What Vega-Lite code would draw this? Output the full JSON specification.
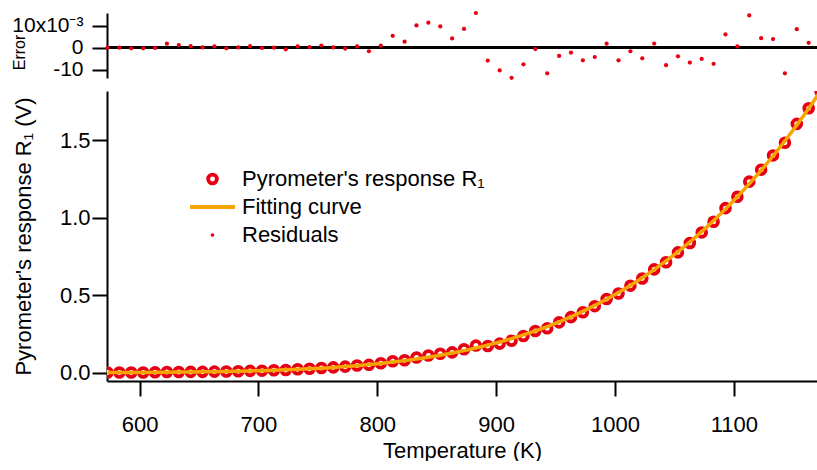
{
  "$schema": "https://vega.github.io/schema/vega-lite/v6.json",
  "padding": {"left": 11, "top": 10, "right": 0, "bottom": 0},
  "background": "white",
  "spacing": 11,
  "config": {
    "view": {"stroke": null},
    "font": "Liberation Sans",
    "axis": {
      "grid": false,
      "domainColor": "black",
      "tickColor": "black",
      "labelColor": "black",
      "titleColor": "black",
      "domainWidth": 2,
      "tickWidth": 2,
      "tickSize": 15,
      "labelFont": "Liberation Sans",
      "titleFont": "Liberation Sans",
      "titleFontWeight": "normal",
      "labelFlush": false,
      "labelOverlap": false,
      "labelBound": false
    },
    "legend": {
      "orient": "none",
      "legendX": 81,
      "legendY": 74,
      "title": null,
      "labelFontSize": 22,
      "labelFont": "Liberation Sans",
      "labelColor": "black",
      "labelLimit": 500,
      "labelOffset": 5,
      "symbolSize": 2025,
      "symbolStrokeWidth": 3.8,
      "clipHeight": 28,
      "rowPadding": 0
    }
  },
  "datasets": {
    "d": [
      {"T": 573, "R": 0.0008, "Fit": 0.0008, "Res": 0.0000},
      {"T": 583, "R": 0.0010, "Fit": 0.0010, "Res": 0.0000},
      {"T": 593, "R": 0.0010, "Fit": 0.0013, "Res": -0.0003},
      {"T": 603, "R": 0.0013, "Fit": 0.0016, "Res": -0.0003},
      {"T": 613, "R": 0.0020, "Fit": 0.0021, "Res": -0.0001},
      {"T": 623, "R": 0.0044, "Fit": 0.0026, "Res": 0.0018},
      {"T": 633, "R": 0.0045, "Fit": 0.0033, "Res": 0.0012},
      {"T": 643, "R": 0.0047, "Fit": 0.0040, "Res": 0.0007},
      {"T": 653, "R": 0.0051, "Fit": 0.0050, "Res": 0.0001},
      {"T": 663, "R": 0.0067, "Fit": 0.0061, "Res": 0.0006},
      {"T": 673, "R": 0.0071, "Fit": 0.0074, "Res": -0.0003},
      {"T": 683, "R": 0.0090, "Fit": 0.0089, "Res": 0.0001},
      {"T": 693, "R": 0.0114, "Fit": 0.0107, "Res": 0.0007},
      {"T": 703, "R": 0.0127, "Fit": 0.0128, "Res": -0.0001},
      {"T": 713, "R": 0.0152, "Fit": 0.0152, "Res": 0.0000},
      {"T": 723, "R": 0.0173, "Fit": 0.0180, "Res": -0.0007},
      {"T": 733, "R": 0.0218, "Fit": 0.0212, "Res": 0.0006},
      {"T": 743, "R": 0.0251, "Fit": 0.0248, "Res": 0.0003},
      {"T": 753, "R": 0.0300, "Fit": 0.0290, "Res": 0.0010},
      {"T": 763, "R": 0.0339, "Fit": 0.0338, "Res": 0.0001},
      {"T": 773, "R": 0.0387, "Fit": 0.0391, "Res": -0.0004},
      {"T": 783, "R": 0.0458, "Fit": 0.0452, "Res": 0.0006},
      {"T": 793, "R": 0.0504, "Fit": 0.0520, "Res": -0.0016},
      {"T": 803, "R": 0.0605, "Fit": 0.0596, "Res": 0.0009},
      {"T": 813, "R": 0.0735, "Fit": 0.0681, "Res": 0.0054},
      {"T": 823, "R": 0.0802, "Fit": 0.0775, "Res": 0.0027},
      {"T": 833, "R": 0.0981, "Fit": 0.0880, "Res": 0.0101},
      {"T": 843, "R": 0.1109, "Fit": 0.0996, "Res": 0.0113},
      {"T": 853, "R": 0.1220, "Fit": 0.1124, "Res": 0.0096},
      {"T": 863, "R": 0.1308, "Fit": 0.1266, "Res": 0.0042},
      {"T": 873, "R": 0.1506, "Fit": 0.1421, "Res": 0.0085},
      {"T": 883, "R": 0.1747, "Fit": 0.1590, "Res": 0.0157},
      {"T": 893, "R": 0.1718, "Fit": 0.1776, "Res": -0.0058},
      {"T": 903, "R": 0.1875, "Fit": 0.1978, "Res": -0.0103},
      {"T": 913, "R": 0.2062, "Fit": 0.2198, "Res": -0.0136},
      {"T": 923, "R": 0.2362, "Fit": 0.2437, "Res": -0.0075},
      {"T": 933, "R": 0.2690, "Fit": 0.2696, "Res": -0.0006},
      {"T": 943, "R": 0.2860, "Fit": 0.2976, "Res": -0.0116},
      {"T": 953, "R": 0.3242, "Fit": 0.3279, "Res": -0.0037},
      {"T": 963, "R": 0.3583, "Fit": 0.3605, "Res": -0.0022},
      {"T": 973, "R": 0.3899, "Fit": 0.3956, "Res": -0.0057},
      {"T": 983, "R": 0.4290, "Fit": 0.4332, "Res": -0.0042},
      {"T": 993, "R": 0.4755, "Fit": 0.4737, "Res": 0.0018},
      {"T": 1003, "R": 0.5112, "Fit": 0.5169, "Res": -0.0057},
      {"T": 1013, "R": 0.5614, "Fit": 0.5630, "Res": -0.0016},
      {"T": 1023, "R": 0.6076, "Fit": 0.6124, "Res": -0.0048},
      {"T": 1033, "R": 0.6668, "Fit": 0.6649, "Res": 0.0019},
      {"T": 1043, "R": 0.7129, "Fit": 0.7208, "Res": -0.0079},
      {"T": 1053, "R": 0.7763, "Fit": 0.7802, "Res": -0.0039},
      {"T": 1063, "R": 0.8366, "Fit": 0.8433, "Res": -0.0067},
      {"T": 1073, "R": 0.9051, "Fit": 0.9102, "Res": -0.0051},
      {"T": 1083, "R": 0.9736, "Fit": 0.9809, "Res": -0.0073},
      {"T": 1093, "R": 1.0618, "Fit": 1.0558, "Res": 0.0060},
      {"T": 1103, "R": 1.1354, "Fit": 1.1348, "Res": 0.0006},
      {"T": 1113, "R": 1.2328, "Fit": 1.2182, "Res": 0.0146},
      {"T": 1123, "R": 1.3102, "Fit": 1.3059, "Res": 0.0043},
      {"T": 1133, "R": 1.4022, "Fit": 1.3983, "Res": 0.0039},
      {"T": 1143, "R": 1.4840, "Fit": 1.4956, "Res": -0.0116},
      {"T": 1153, "R": 1.6060, "Fit": 1.5976, "Res": 0.0084},
      {"T": 1163, "R": 1.7068, "Fit": 1.7046, "Res": 0.0022},
      {"T": 1173, "R": 1.8168, "Fit": 1.8168, "Res": null}
    ]
  },
  "vconcat": [
    {
      "width": 710,
      "height": 65,
      "data": {"name": "d"},
      "layer": [
        {
          "mark": {"type": "rule", "color": "black", "strokeWidth": 2},
          "encoding": {
            "y": {
              "datum": 0,
              "type": "quantitative",
              "scale": {"domain": [-0.0137, 0.0157], "nice": false, "zero": false},
              "axis": {
                "values": [-0.01, 0, 0.01],
                "labelExpr": "datum.value > 0.005 ? '10x10⁻³' : (datum.value < -0.005 ? '-10' : '0')",
                "labelFontSize": 21,
                "labelPadding": 9,
                "title": "Error",
                "titleFontSize": 16,
                "titleAngle": -90,
                "titleAlign": "center",
                "titleBaseline": "bottom",
                "titleX": -80,
                "titleY": 39
              }
            }
          }
        },
        {
          "mark": {"type": "point", "filled": true, "size": 18, "color": "#e60012", "opacity": 1, "strokeWidth": 0},
          "encoding": {
            "x": {
              "field": "T",
              "type": "quantitative",
              "scale": {"domain": [572.6, 1170], "nice": false, "zero": false},
              "axis": null
            },
            "y": {
              "field": "Res",
              "type": "quantitative",
              "scale": {"domain": [-0.0137, 0.0157], "nice": false, "zero": false},
              "axis": {
                "values": [-0.01, 0, 0.01],
                "labelExpr": "datum.value > 0.005 ? '10x10⁻³' : (datum.value < -0.005 ? '-10' : '0')",
                "labelFontSize": 21,
                "labelPadding": 9,
                "title": "Error",
                "titleFontSize": 16,
                "titleAngle": -90,
                "titleAlign": "center",
                "titleBaseline": "bottom",
                "titleX": -80,
                "titleY": 39
              }
            }
          }
        }
      ]
    },
    {
      "width": 710,
      "height": 290,
      "data": {"name": "d"},
      "layer": [
        {
          "mark": {"type": "point", "size": 2025, "strokeWidth": 3.8, "opacity": 1, "fillOpacity": 1, "strokeOpacity": 1, "clip": true},
          "encoding": {
            "x": {
              "field": "T",
              "type": "quantitative",
              "scale": {"domain": [572.6, 1170], "nice": false, "zero": false},
              "axis": {
                "values": [600, 700, 800, 900, 1000, 1100],
                "format": "d",
                "labelFontSize": 22,
                "labelPadding": 18,
                "title": "Temperature (K)",
                "titleFontSize": 22,
                "titleBaseline": "alphabetic",
                "titleY": 76
              }
            },
            "y": {
              "field": "R",
              "type": "quantitative",
              "scale": {"domain": [-0.054, 1.818], "nice": false, "zero": false},
              "axis": {
                "values": [0, 0.5, 1, 1.5],
                "format": ".1f",
                "labelFontSize": 22,
                "labelPadding": 2,
                "title": "Pyrometer's response R₁ (V)",
                "titleFontSize": 22,
                "titlePadding": 24
              }
            },
            "stroke": {
              "datum": "Pyrometer's response R₁",
              "type": "nominal",
              "scale": {
                "domain": ["Pyrometer's response R₁", "Fitting curve", "Residuals"],
                "range": ["#e60012", "#f6a500", "transparent"]
              }
            },
            "fill": {
              "datum": "Pyrometer's response R₁",
              "type": "nominal",
              "scale": {
                "domain": ["Pyrometer's response R₁", "Fitting curve", "Residuals"],
                "range": ["#ffffff", "transparent", "#e60012"]
              }
            },
            "shape": {
              "datum": "Pyrometer's response R₁",
              "type": "nominal",
              "scale": {
                "domain": ["Pyrometer's response R₁", "Fitting curve", "Residuals"],
                "range": [
                  "M-0.195,0A0.195,0.195 0 1,1 0.195,0A0.195,0.195 0 1,1 -0.195,0Z",
                  "M-1,0L1,0",
                  "M-0.08,0A0.08,0.08 0 1,1 0.08,0A0.08,0.08 0 1,1 -0.08,0Z"
                ]
              }
            }
          }
        },
        {
          "mark": {"type": "line", "strokeWidth": 3.5, "clip": true},
          "encoding": {
            "x": {"field": "T", "type": "quantitative"},
            "y": {"field": "Fit", "type": "quantitative"},
            "stroke": {"datum": "Fitting curve", "type": "nominal"}
          }
        }
      ]
    }
  ],
  "resolve": {
    "scale": {"stroke": "independent", "fill": "independent", "shape": "independent"},
    "legend": {"stroke": "independent", "fill": "independent", "shape": "independent"}
  }
}
